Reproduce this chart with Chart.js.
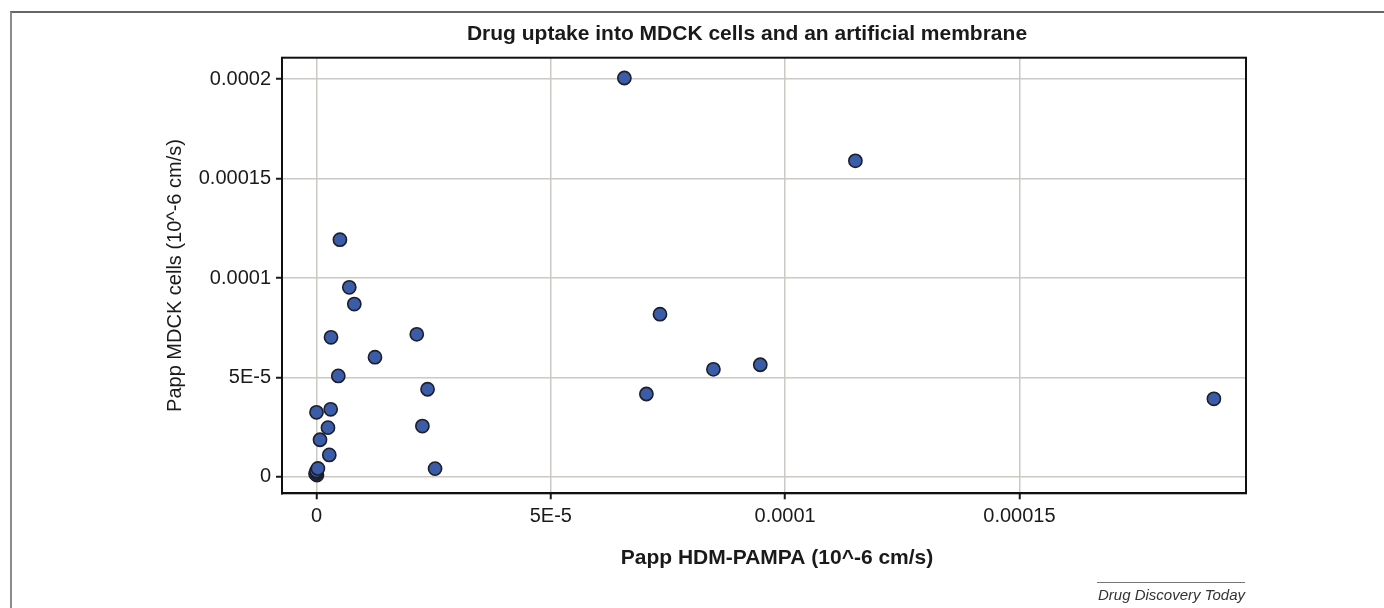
<!DOCTYPE html>
<html>
<head>
<meta charset="utf-8">
<script src="https://cdn.jsdelivr.net/npm/chart.js@4.4.1/dist/chart.umd.min.js"></script>
<style>
    html, body { margin: 0; padding: 0; background: #fff; }
    #wrap { position: relative; width: 1384px; height: 608px; overflow: hidden; }
    #frame { position: absolute; left: 10px; top: 11px; width: 1400px; height: 700px;
             border-left: 2px solid #8c8c8c; border-top: 2px solid #666; }
    #source { position: absolute; left: 1097px; top: 582px; width: 148px;
              border-top: 1.5px solid #777; padding-top: 3px; text-align: right;
              font: italic 15px 'Liberation Sans', Arial, sans-serif; color: #333; line-height: 18px; }
</style>
</head>
<body>
<div id="wrap">
    <div id="frame"></div>
    <canvas id="myChart"></canvas>
    <div id="source">Drug Discovery Today</div>
</div>
<script>
// Papp HDM-PAMPA (x) and Papp MDCK (y)
const pampa = [
    6.57e-5, 1.150e-4, 5.0e-6, 7.0e-6, 8.07e-6, 3.1e-6, 1.248e-5, 2.14e-5,
    4.65e-6, 2.37e-5, 3.03e-6, 0, 2.45e-6, 2.26e-5, 7.5e-7, 2.73e-6, 2.53e-5,
    1e-7, -2e-7, 0, 0, 3e-7,
    7.33e-5, 7.04e-5, 8.47e-5, 9.47e-5, 1.915e-4
];
const mdck = [
    2.005e-4, 1.589e-4, 1.1925e-4, 9.53e-5, 8.69e-5, 7.02e-5, 6.02e-5, 7.17e-5,
    5.08e-5, 4.41e-5, 3.40e-5, 3.25e-5, 2.48e-5, 2.56e-5, 1.87e-5, 1.11e-5, 4.2e-6,
    1.0e-6, 1.6e-6, 2.3e-6, 3.0e-6, 4.3e-6,
    8.18e-5, 4.17e-5, 5.41e-5, 5.64e-5, 3.93e-5
];

const xTickValues = [0, 5e-5, 1e-4, 1.5e-4];
const xTickLabels = ['0', '5E-5', '0.0001', '0.00015'];
const yTickValues = [0, 5e-5, 1e-4, 1.5e-4, 2e-4];
const yTickLabels = ['0', '5E-5', '0.0001', '0.00015', '0.0002'];

const chartTitle = 'Drug uptake into MDCK cells and an artificial membrane';
const xTitle = 'Papp HDM-PAMPA (10^-6 cm/s)';
const yTitle = 'Papp MDCK cells (10^-6 cm/s)';

Chart.defaults.font.family = "'Liberation Sans', Arial, Helvetica, sans-serif";
Chart.defaults.color = '#1a1a1a';

// box round the plot plus the two bold titles
const decorations = {
    id: 'decorations',
    afterDraw(chart) {
        const ctx = chart.ctx;
        const a = chart.chartArea;
        const mid = (a.left + a.right) / 2;
        ctx.save();
        ctx.strokeStyle = '#111';
        ctx.lineWidth = 2;
        ctx.strokeRect(a.left, a.top, a.right - a.left, a.bottom - a.top);
        ctx.fillStyle = '#1a1a1a';
        ctx.font = "bold 21px 'Liberation Sans', Arial, sans-serif";
        ctx.textAlign = 'center';
        ctx.textBaseline = 'middle';
        ctx.fillText(chartTitle, mid - 17, 34);
        ctx.fillText(xTitle, mid + 13, 558);
        ctx.restore();
    }
};

const points = pampa.map((x, i) => ({ x: x, y: mdck[i] }));

const ctx = document.getElementById('myChart').getContext('2d');
const chart = new Chart(ctx, {
    type: 'scatter',
    data: {
        datasets: [{
            data: points,
            backgroundColor: '#3a5ca9',
            borderColor: '#1d1f2b',
            borderWidth: 1.6,
            pointRadius: 6.6,
            pointHoverRadius: 6.6
        }]
    },
    options: {
        responsive: true,
        maintainAspectRatio: false,
        animation: false,
        layout: { padding: { left: 163, right: 138, top: 57.7, bottom: 38 } },
        plugins: {
            legend: { display: false },
            tooltip: { enabled: false }
        },
        scales: {
            x: {
                type: 'linear',
                min: -7.36e-6,
                max: 1.9835e-4,
                afterBuildTicks: s => { s.ticks = xTickValues.map(v => ({ value: v })); },
                afterFit: s => { s.height = 76.7; },
                ticks: {
                    font: { size: 20 },
                    padding: 5,
                    maxRotation: 0,
                    callback: (v, i) => xTickLabels[i]
                },
                grid: {
                    color: '#ccc8c3',
                    lineWidth: 1.5,
                    tickColor: '#1a1a1a',
                    tickLength: 6,
                    tickWidth: 2
                },
                border: { display: true, color: '#111', width: 2 }
            },
            y: {
                type: 'linear',
                min: -8.2e-6,
                max: 2.107e-4,
                afterBuildTicks: s => { s.ticks = yTickValues.map(v => ({ value: v })); },
                afterFit: s => { s.width = 119; },
                ticks: {
                    font: { size: 20 },
                    padding: 5,
                    callback: (v, i) => yTickLabels[i]
                },
                grid: {
                    color: '#ccc8c3',
                    lineWidth: 1.5,
                    tickColor: '#1a1a1a',
                    tickLength: 6,
                    tickWidth: 2
                },
                border: { display: true, color: '#111', width: 2 },
                title: {
                    display: true,
                    text: yTitle,
                    font: { size: 20 },
                    padding: 0
                }
            }
        }
    },
    plugins: [decorations]
});
</script>
</body>
</html>
